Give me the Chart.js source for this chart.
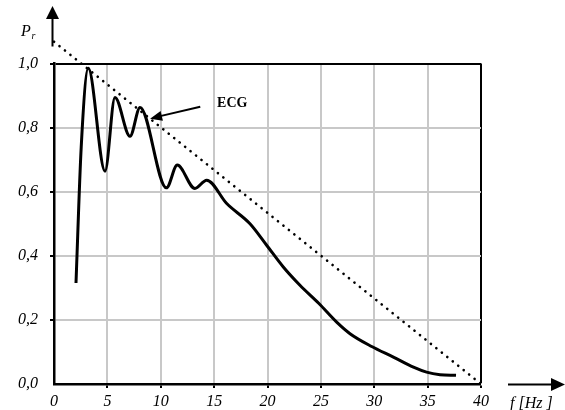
<!DOCTYPE html>
<html>
<head>
<meta charset="utf-8">
<script src="https://cdn.jsdelivr.net/npm/chart.js@4"></script>
<style>
  html, body { margin: 0; padding: 0; background: #fff; }
  #wrap { width: 565px; height: 410px; }
</style>
</head>
<body>
<div id="wrap"><canvas id="chart"></canvas></div>
<script>
// ECG spectrum (f in Hz, relative power)
const ecgFreq  = [2.06, 2.55, 3.21, 4.78, 5.71, 7.12, 8.06, 10.53, 11.55, 13.2, 14.3, 16.18, 18.36, 19.92, 21.48, 23.04, 24.82, 26.48, 27.73, 29.76, 31.79, 33.67, 34.9, 36.16, 37.66];
const ecgPower = [0.315, 0.74, 0.985, 0.664, 0.894, 0.773, 0.863, 0.612, 0.683, 0.61, 0.636, 0.563, 0.50, 0.433, 0.365, 0.308, 0.251, 0.193, 0.157, 0.117, 0.084, 0.0525, 0.037, 0.029, 0.027];

// dotted reference line
const refFreq  = [0, 40];
const refPower = [1.068, 0];

const xTicks = [0, 5, 10, 15, 20, 25, 30, 35, 40];
const yTickLabels = ['0,0', '0,2', '0,4', '0,6', '0,8', '1,0'];

const serif = '"Liberation Serif", "DejaVu Serif", serif';

// where the ECG label and its arrow go (data coordinates)
const ecgNote = { text: 'ECG', x: 16.7, y: 0.877, from: [13.7, 0.865], to: [9.0, 0.828] };

function arrowHead(ctx, x1, y1, x2, y2, len, half) {
    const a = Math.atan2(y2 - y1, x2 - x1);
    ctx.beginPath();
    ctx.moveTo(x2, y2);
    ctx.lineTo(x2 - len * Math.cos(a) + half * Math.sin(a), y2 - len * Math.sin(a) - half * Math.cos(a));
    ctx.lineTo(x2 - len * Math.cos(a) - half * Math.sin(a), y2 - len * Math.sin(a) + half * Math.cos(a));
    ctx.closePath();
    ctx.fill();
}

const decorations = {
    id: 'decorations',
    afterDraw(chart) {
        const { ctx, chartArea, scales } = chart;
        const xs = scales.x, ys = scales.y;
        ctx.save();
        ctx.fillStyle = '#000';
        ctx.strokeStyle = '#000';

        // y axis arrow
        const ax = chartArea.left - 1.5;
        ctx.lineWidth = 2;
        ctx.beginPath();
        ctx.moveTo(ax, chartArea.top - 17);
        ctx.lineTo(ax, 17);
        ctx.stroke();
        arrowHead(ctx, ax, 30, ax, 6, 13, 6.5);

        // x axis arrow
        const ay = chartArea.bottom + 0.5;
        ctx.beginPath();
        ctx.moveTo(chartArea.right + 27, ay);
        ctx.lineTo(553, ay);
        ctx.stroke();
        arrowHead(ctx, 530, ay, 565, ay, 14, 6.5);

        // axis titles
        ctx.font = 'italic 16px ' + serif;
        ctx.textBaseline = 'alphabetic';
        ctx.textAlign = 'left';
        ctx.fillText('P', 21, 36);
        ctx.font = 'italic 10px ' + serif;
        ctx.fillText('r', 31.5, 39);
        ctx.font = 'italic 16px ' + serif;
        ctx.fillText('f [Hz ]', 510, 408);

        // ECG note
        ctx.font = 'bold 14px ' + serif;
        ctx.textAlign = 'center';
        ctx.textBaseline = 'middle';
        ctx.fillText(ecgNote.text, xs.getPixelForValue(ecgNote.x), ys.getPixelForValue(ecgNote.y));
        const fx = xs.getPixelForValue(ecgNote.from[0]), fy = ys.getPixelForValue(ecgNote.from[1]);
        const tx = xs.getPixelForValue(ecgNote.to[0]), ty = ys.getPixelForValue(ecgNote.to[1]);
        ctx.lineWidth = 2;
        ctx.beginPath();
        ctx.moveTo(fx, fy);
        ctx.lineTo(tx + 8, ty - 2);
        ctx.stroke();
        arrowHead(ctx, fx, fy, tx, ty, 12, 5);
        ctx.restore();
    }
};

const gridColor = '#c8c8c8';

new Chart(document.getElementById('chart'), {
    type: 'line',
    data: {
        datasets: [
            {
                label: 'ECG',
                data: ecgFreq.map((f, i) => ({ x: f, y: ecgPower[i] })),
                borderColor: '#000',
                borderWidth: 3,
                pointRadius: 0,
                cubicInterpolationMode: 'monotone',
                fill: false
            },
            {
                label: 'ref',
                data: refFreq.map((f, i) => ({ x: f, y: refPower[i] })),
                borderColor: '#000',
                borderWidth: 2.6,
                borderDash: [0.1, 6.9],
                borderCapStyle: 'round',
                pointRadius: 0,
                clip: false,
                fill: false
            }
        ]
    },
    options: {
        responsive: true,
        maintainAspectRatio: false,
        animation: false,
        events: [],
        layout: { padding: { top: 63.5, right: 84, left: 0, bottom: 0 } },
        plugins: {
            legend: { display: false },
            tooltip: { enabled: false }
        },
        scales: {
            x: {
                type: 'linear',
                min: 0,
                max: 40,
                afterFit: (s) => { s.height = 26; },
                afterBuildTicks: (s) => { s.ticks = xTicks.map(v => ({ value: v })); },
                ticks: {
                    color: '#000',
                    font: { family: serif, size: 16, style: 'italic' },
                    padding: 4,
                    maxRotation: 0,
                    callback: (v) => String(v)
                },
                grid: {
                    color: (c) => c.tick && c.tick.value === 40 ? '#000' : gridColor,
                    lineWidth: (c) => c.tick && c.tick.value === 0 ? 0 : 2,
                    tickColor: '#000',
                    tickLength: 4,
                    drawTicks: true
                },
                border: { color: '#000', width: 2.5 }
            },
            y: {
                min: 0,
                max: 1,
                afterFit: (s) => { s.width = 54; },
                ticks: {
                    stepSize: 0.2,
                    color: '#000',
                    font: { family: serif, size: 16, style: 'italic' },
                    padding: 12,
                    callback: (v) => yTickLabels[Math.round(v / 0.2)]
                },
                grid: {
                    color: (c) => c.tick && Math.abs(c.tick.value - 1) < 1e-6 ? '#000' : gridColor,
                    lineWidth: (c) => c.tick && c.tick.value === 0 ? 0 : 2,
                    tickColor: '#000',
                    tickLength: 4
                },
                border: { color: '#000', width: 2.5 }
            }
        }
    },
    plugins: [decorations]
});
</script>
</body>
</html>
